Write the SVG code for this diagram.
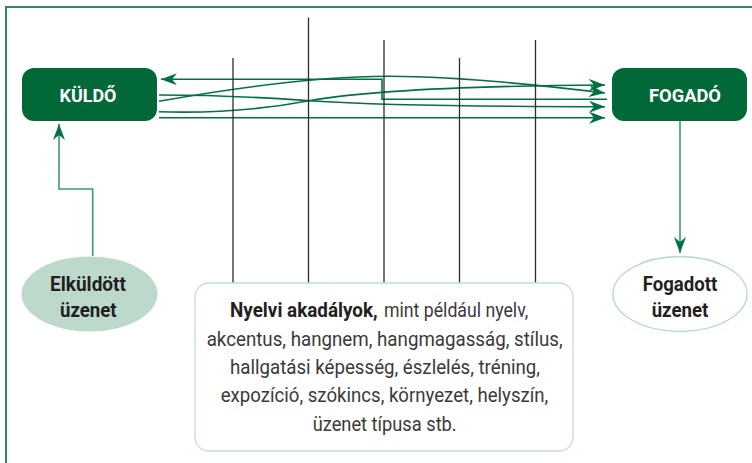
<svg xmlns="http://www.w3.org/2000/svg" width="752" height="463" viewBox="0 0 752 463">
<defs>
<style>
.box{fill:#006937}
.lbl{font-family:Roboto,"Liberation Sans",sans-serif;font-weight:700;fill:#fff;font-size:18px;text-anchor:middle}
.ell{font-family:Roboto,"Liberation Sans",sans-serif;font-weight:700;fill:#231f20;font-size:20px;text-anchor:middle}
.body{font-family:Roboto,"Liberation Sans",sans-serif;fill:#3a3a3a;font-size:20px;font-weight:400}
.conn{fill:none;stroke:#007140;stroke-width:1.6}
.lite{fill:none;stroke:#3f9a6a;stroke-width:1.6}
.bar{stroke:#2b2b2b;stroke-width:1.3}
</style>
<marker id="ah" viewBox="0 0 16 12" refX="16" refY="6" markerWidth="16" markerHeight="12" markerUnits="userSpaceOnUse" orient="auto">
<path d="M0,0 L16,6 L0,12 L5,6 Z" fill="#007140"/>
</marker>
</defs>
<rect x="6" y="7" width="770" height="480" fill="#fff" stroke="#2e8b5a" stroke-width="2"/>

<g id="connectors">
<path class="conn" d="M607,99.3 H382 V79.3 H161" marker-end="url(#ah)"/>
<path class="conn" d="M159,101.3 C240,87 320,76 390,76.3 C460,76.6 540,85 605,93" marker-end="url(#ah)"/>
<path class="conn" d="M159,111.7 C200,113 250,112 309,100.7 C360,92 450,86 605,85" marker-end="url(#ah)"/>
<path class="conn" d="M159,95 C230,95 270,98 309,100.7 C350,103.3 450,106.7 605,106.7" marker-end="url(#ah)"/>
<path class="conn" d="M159,117.7 H605" marker-end="url(#ah)"/>
<path class="lite" d="M92.7,256 V189 H59 V124" marker-end="url(#ah)"/>
<path class="lite" d="M680,121 V253" marker-end="url(#ah)"/>
</g>

<g id="barriers">
<line class="bar" x1="233" y1="58" x2="233" y2="283"/>
<line class="bar" x1="308.5" y1="17.5" x2="308.5" y2="283"/>
<line class="bar" x1="384" y1="40" x2="384" y2="283"/>
<line class="bar" x1="459.5" y1="58" x2="459.5" y2="283"/>
<line class="bar" x1="535.5" y1="40" x2="535.5" y2="283"/>
</g>

<g id="kuldo">
<rect class="box" x="22" y="68" width="135" height="53" rx="12"/>
<text class="lbl" x="88" y="101.5" textLength="57" lengthAdjust="spacingAndGlyphs">KÜLDŐ</text>
</g>

<g id="fogado">
<rect class="box" x="612" y="68" width="135" height="53" rx="12"/>
<text class="lbl" x="685" y="101.5" textLength="72" lengthAdjust="spacingAndGlyphs">FOGADÓ</text>
</g>

<g id="elkuldott">
<ellipse cx="89.5" cy="294" rx="68" ry="37.5" fill="#bcd9cb"/>
<text class="ell" x="88" y="291" textLength="76" lengthAdjust="spacingAndGlyphs">Elküldött</text>
<text class="ell" x="88.3" y="316.5" textLength="56.7" lengthAdjust="spacingAndGlyphs">üzenet</text>
</g>

<g id="fogadott">
<ellipse cx="680" cy="294" rx="67" ry="37.5" fill="#fff" stroke="#b3d9c4" stroke-width="1.3"/>
<text class="ell" x="680" y="291" textLength="74.7" lengthAdjust="spacingAndGlyphs">Fogadott</text>
<text class="ell" x="680" y="316.5" textLength="56.7" lengthAdjust="spacingAndGlyphs">üzenet</text>
</g>

<g id="akadalyok">
<rect x="195" y="283" width="378" height="168" rx="14" fill="#fff" stroke="#c3e0cf" stroke-width="1.3"/>
<text class="body" x="230" y="317.3" textLength="147.7" lengthAdjust="spacingAndGlyphs" style="font-weight:700;fill:#231f20">Nyelvi akadályok,</text>
<text class="body" x="384" y="317.3" textLength="144.3" lengthAdjust="spacingAndGlyphs">mint például nyelv,</text>
<text class="body" x="206.7" y="345.6" textLength="356" lengthAdjust="spacingAndGlyphs">akcentus, hangnem, hangmagasság, stílus,</text>
<text class="body" x="230" y="374" textLength="310" lengthAdjust="spacingAndGlyphs">hallgatási képesség, észlelés, tréning,</text>
<text class="body" x="220.7" y="402.3" textLength="327.6" lengthAdjust="spacingAndGlyphs">expozíció, szókincs, környezet, helyszín,</text>
<text class="body" x="312.7" y="430.6" textLength="144" lengthAdjust="spacingAndGlyphs">üzenet típusa stb.</text>
</g>
</svg>
